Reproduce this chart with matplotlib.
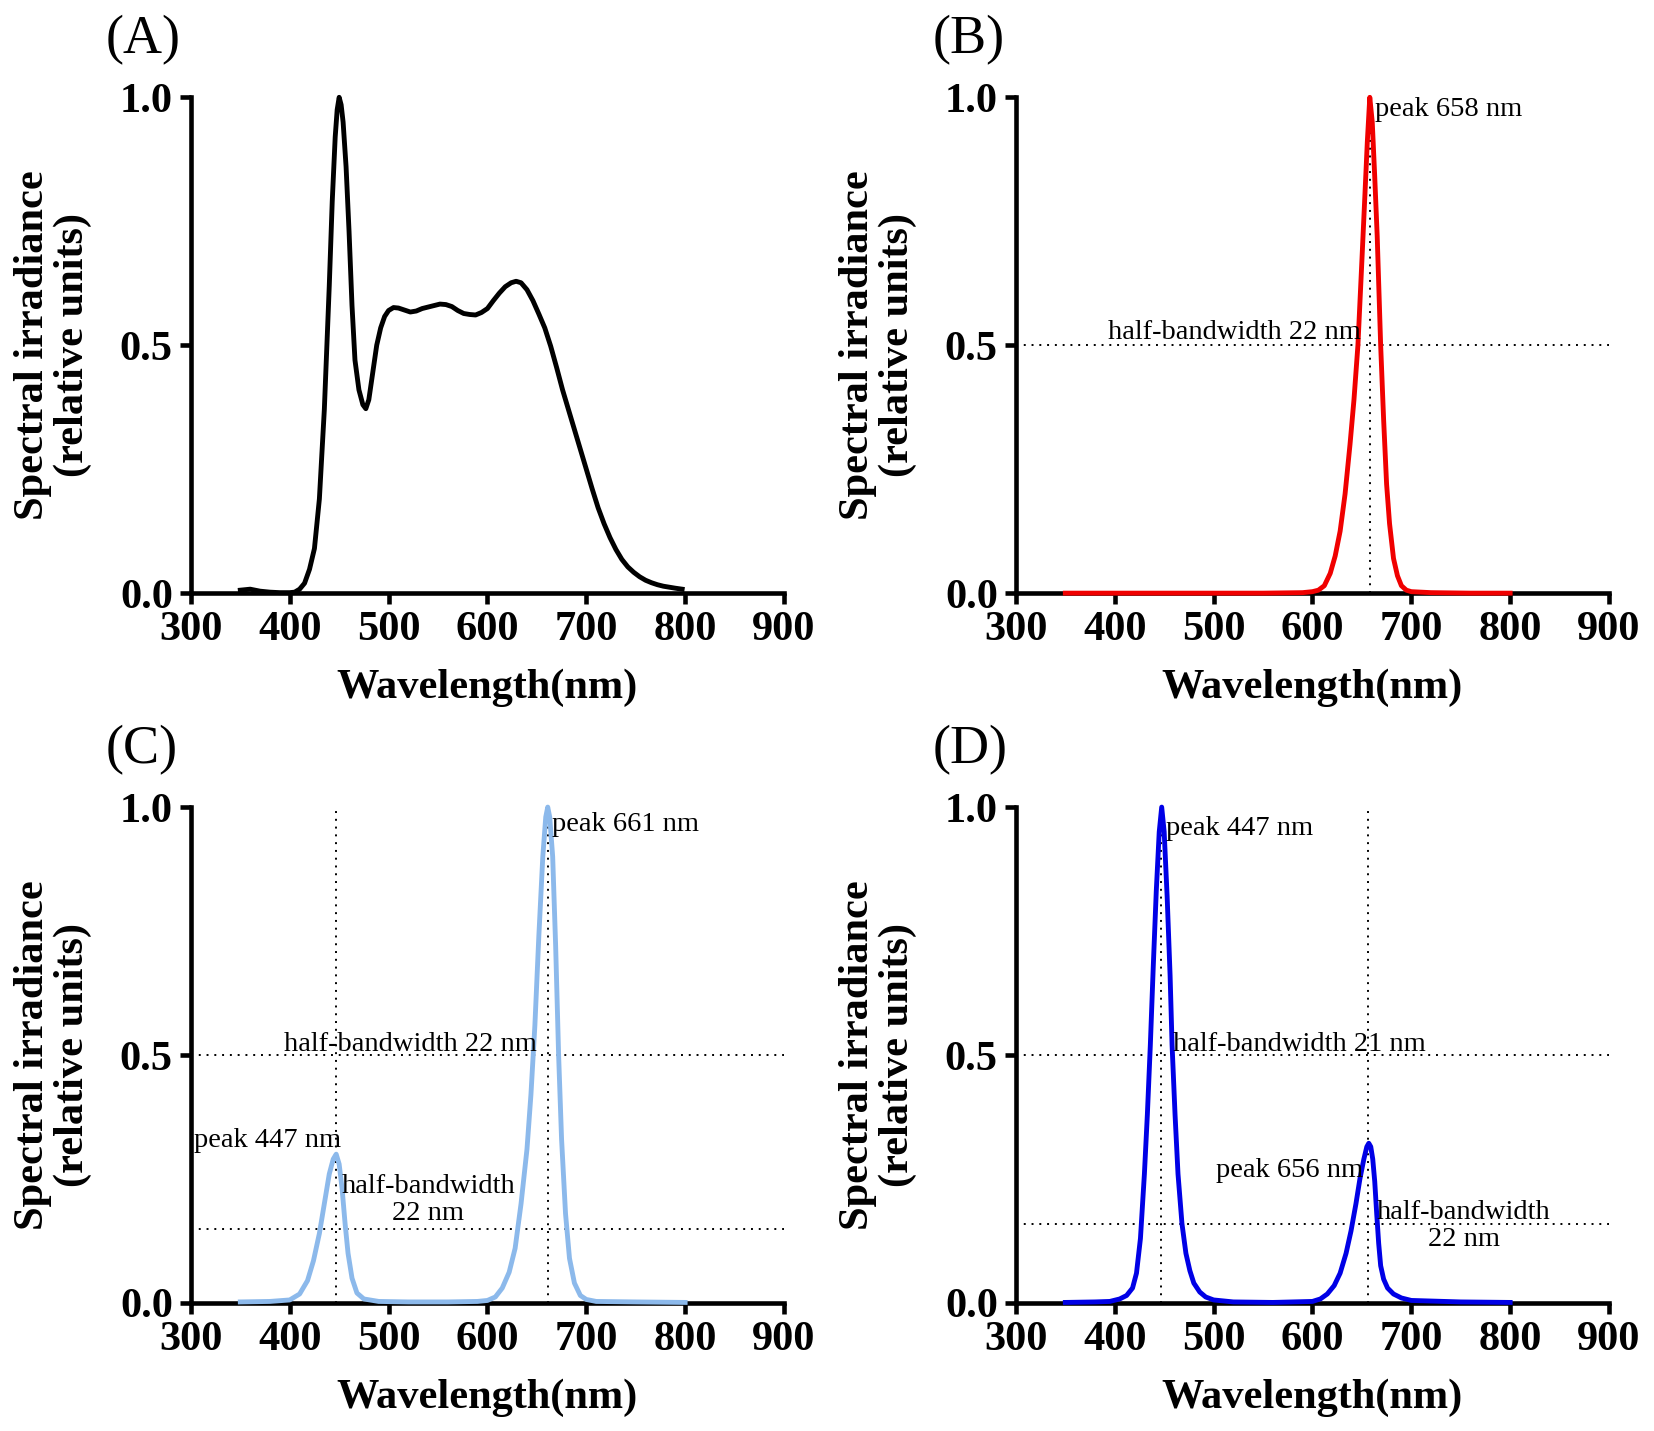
import numpy as np
import matplotlib
matplotlib.use("Agg")
import matplotlib.pyplot as plt

# ---- data ----
wl_a = [350, 355, 360, 365, 370, 380, 390, 400, 405, 410, 415, 420, 425, 430, 435,
        440, 443, 446, 448, 450, 452, 454, 457, 460, 463, 466, 470, 474, 477, 480,
        484, 488, 492, 496, 500, 505, 510, 516, 522, 528, 534, 540, 546, 552, 558,
        564, 570, 576, 582, 588, 594, 600, 606, 612, 618, 624, 629, 634, 640, 646,
        652, 658, 664, 670, 676, 682, 688, 694, 700, 706, 712, 718, 724, 730, 736,
        742, 748, 754, 760, 766, 772, 778, 784, 790, 797]
irr_a = [0.006, 0.007, 0.008, 0.006, 0.004, 0.002, 0.001, 0.001, 0.002, 0.008, 0.02,
         0.048, 0.09, 0.19, 0.37, 0.62, 0.79, 0.92, 0.975, 1.0, 0.985, 0.95, 0.86,
         0.73, 0.58, 0.47, 0.41, 0.38, 0.372, 0.39, 0.445, 0.5, 0.535, 0.558, 0.57,
         0.576, 0.575, 0.571, 0.567, 0.569, 0.574, 0.577, 0.58, 0.583, 0.582, 0.578,
         0.57, 0.564, 0.562, 0.561, 0.566, 0.574, 0.59, 0.605, 0.618, 0.626, 0.629,
         0.626, 0.612, 0.59, 0.563, 0.535, 0.498, 0.455, 0.41, 0.37, 0.33, 0.29,
         0.25, 0.21, 0.172, 0.14, 0.112, 0.088, 0.068, 0.053, 0.042, 0.033, 0.026,
         0.021, 0.017, 0.014, 0.012, 0.01, 0.008]

wl_b = [350, 400, 450, 500, 550, 590, 600, 606, 612, 618, 623, 628, 633, 638, 642,
        646, 650, 653, 655.5, 658, 660.5, 663, 665.5, 669, 672, 675, 678, 682, 686,
        690, 695, 700, 720, 760, 800]
irr_b = [0.0, 0.0, 0.0, 0.0, 0.0, 0.001, 0.003, 0.006, 0.015, 0.04, 0.075, 0.125,
         0.2, 0.3, 0.39, 0.5, 0.67, 0.8, 0.91, 1.0, 0.95, 0.84, 0.72, 0.5, 0.35,
         0.22, 0.14, 0.07, 0.035, 0.015, 0.006, 0.003, 0.001, 0.0, 0.0]

wl_c = [350, 380, 400, 410, 418, 424, 430, 435, 440, 444, 447, 450, 453, 456, 459,
        463, 468, 475, 490, 520, 560, 590, 600, 608, 615, 622, 628, 634, 640, 644,
        648, 652, 656, 659, 661, 663, 666, 669, 672, 675, 679, 683, 688, 694, 700,
        710, 750, 800]
irr_c = [0.002, 0.003, 0.006, 0.018, 0.045, 0.085, 0.14, 0.2, 0.26, 0.29, 0.30, 0.28,
         0.23, 0.16, 0.1, 0.05, 0.02, 0.008, 0.003, 0.002, 0.002, 0.003, 0.005,
         0.012, 0.03, 0.062, 0.11, 0.2, 0.31, 0.42, 0.56, 0.74, 0.9, 0.98, 1.0,
         0.98, 0.9, 0.72, 0.5, 0.33, 0.18, 0.09, 0.04, 0.015, 0.007, 0.003, 0.002,
         0.001]

wl_d = [350, 380, 395, 405, 412, 418, 422, 426, 430, 433, 436, 439, 442, 445, 447.5,
        450, 453, 456, 458, 461, 464, 468, 472, 476, 480, 486, 492, 500, 520, 560,
        600, 608, 615, 622, 628, 634, 639, 644, 648, 652, 655, 657, 659, 661, 663,
        665, 667, 669, 672, 676, 682, 690, 700, 750, 800]
irr_d = [0.001, 0.002, 0.003, 0.008, 0.015, 0.03, 0.06, 0.13, 0.26, 0.38, 0.52, 0.68,
         0.83, 0.95, 1.0, 0.95, 0.82, 0.66, 0.52, 0.38, 0.26, 0.16, 0.1, 0.065,
         0.04, 0.022, 0.012, 0.006, 0.002, 0.001, 0.003, 0.008, 0.018, 0.035, 0.06,
         0.1, 0.145, 0.2, 0.25, 0.29, 0.315, 0.322, 0.315, 0.29, 0.245, 0.18, 0.12,
         0.075, 0.048, 0.03, 0.018, 0.01, 0.005, 0.002, 0.001]

x_ticks = [300, 400, 500, 600, 700, 800, 900]
y_ticks = [0.0, 0.5, 1.0]
y_ticklabels = ["0.0", "0.5", "1.0"]

serif = ["Liberation Serif", "DejaVu Serif"]
ylab = "Spectral irradiance\n(relative units)"
xlab = "Wavelength(nm)"

fig = plt.figure(figsize=(16.54, 14.31), dpi=100)
W = 0.3586
H = 0.3465
axA = fig.add_axes([0.1154, 0.5855, W, H])
axB = fig.add_axes([0.6142, 0.5855, W, H])
axC = fig.add_axes([0.1154, 0.0895, W, H])
axD = fig.add_axes([0.6142, 0.0895, W, H])


def style(ax):
    ax.set_xlim(300, 900)
    ax.set_ylim(0, 1.0)
    for s in ["top", "right"]:
        ax.spines[s].set_visible(False)
    for s in ["left", "bottom"]:
        ax.spines[s].set_linewidth(3.3)
    ax.set_xticks(x_ticks)
    ax.set_yticks(y_ticks)
    ax.set_yticklabels(y_ticklabels)
    ax.tick_params(direction="out", length=8, width=3.3, pad=5)
    for lab in ax.get_xticklabels() + ax.get_yticklabels():
        lab.set_family(serif)
        lab.set_fontweight("bold")
        lab.set_fontsize(30.5)
    ax.set_xlabel(xlab, family=serif, fontweight="bold", fontsize=30.5, labelpad=14)
    ax.text(-0.232, 0.5, ylab, transform=ax.transAxes, rotation=90,
            ha="center", va="center", multialignment="center",
            family=serif, fontweight="bold", fontsize=30.5, linespacing=1.05)


def dots(ax, hlines, vlines):
    for y in hlines:
        ax.plot([300, 900], [y, y], color="black", lw=1.4, ls=(0, (1, 3)))
    for x in vlines:
        ax.plot([x, x], [0, 1.0], color="black", lw=1.4, ls=(0, (1, 3)))


def note(ax, x, y, s, ha="left"):
    ax.text(x, y, s, ha=ha, va="center", family=serif, fontsize=20.5,
            multialignment="center", linespacing=1.1)


for ax in [axA, axB, axC, axD]:
    style(ax)

axA.plot(wl_a, irr_a, color="black", lw=3.5, clip_on=False, zorder=3)

dots(axB, [0.5], [658])
axB.plot(wl_b, irr_b, color="#f00000", lw=3.5, clip_on=False, zorder=3)
note(axB, 663, 0.975, "peak 658 nm")
note(axB, 393, 0.525, "half-bandwidth 22 nm")

dots(axC, [0.5, 0.15], [447, 661])
axC.plot(wl_c, irr_c, color="#8cb9eb", lw=3.5, clip_on=False, zorder=3)
note(axC, 665, 0.965, "peak 661 nm")
note(axC, 394, 0.521, "half-bandwidth 22 nm")
note(axC, 303, 0.328, "peak 447 nm")
note(axC, 540, 0.208, "half-bandwidth\n22 nm", ha="center")

dots(axD, [0.5, 0.16], [447, 656])
axD.plot(wl_d, irr_d, color="#0000e6", lw=3.5, clip_on=False, zorder=3)
note(axD, 452, 0.956, "peak 447 nm")
note(axD, 459, 0.522, "half-bandwidth 21 nm")
note(axD, 502, 0.268, "peak 656 nm")
note(axD, 753, 0.155, "half-bandwidth\n22 nm", ha="center")

for lbl, x, y in [("(A)", 0.064, 0.972), ("(B)", 0.564, 0.972),
                  ("(C)", 0.064, 0.476), ("(D)", 0.564, 0.476)]:
    fig.text(x, y, lbl, ha="left", va="center", family=serif, fontsize=39)

fig.savefig("out.png", dpi=100)
